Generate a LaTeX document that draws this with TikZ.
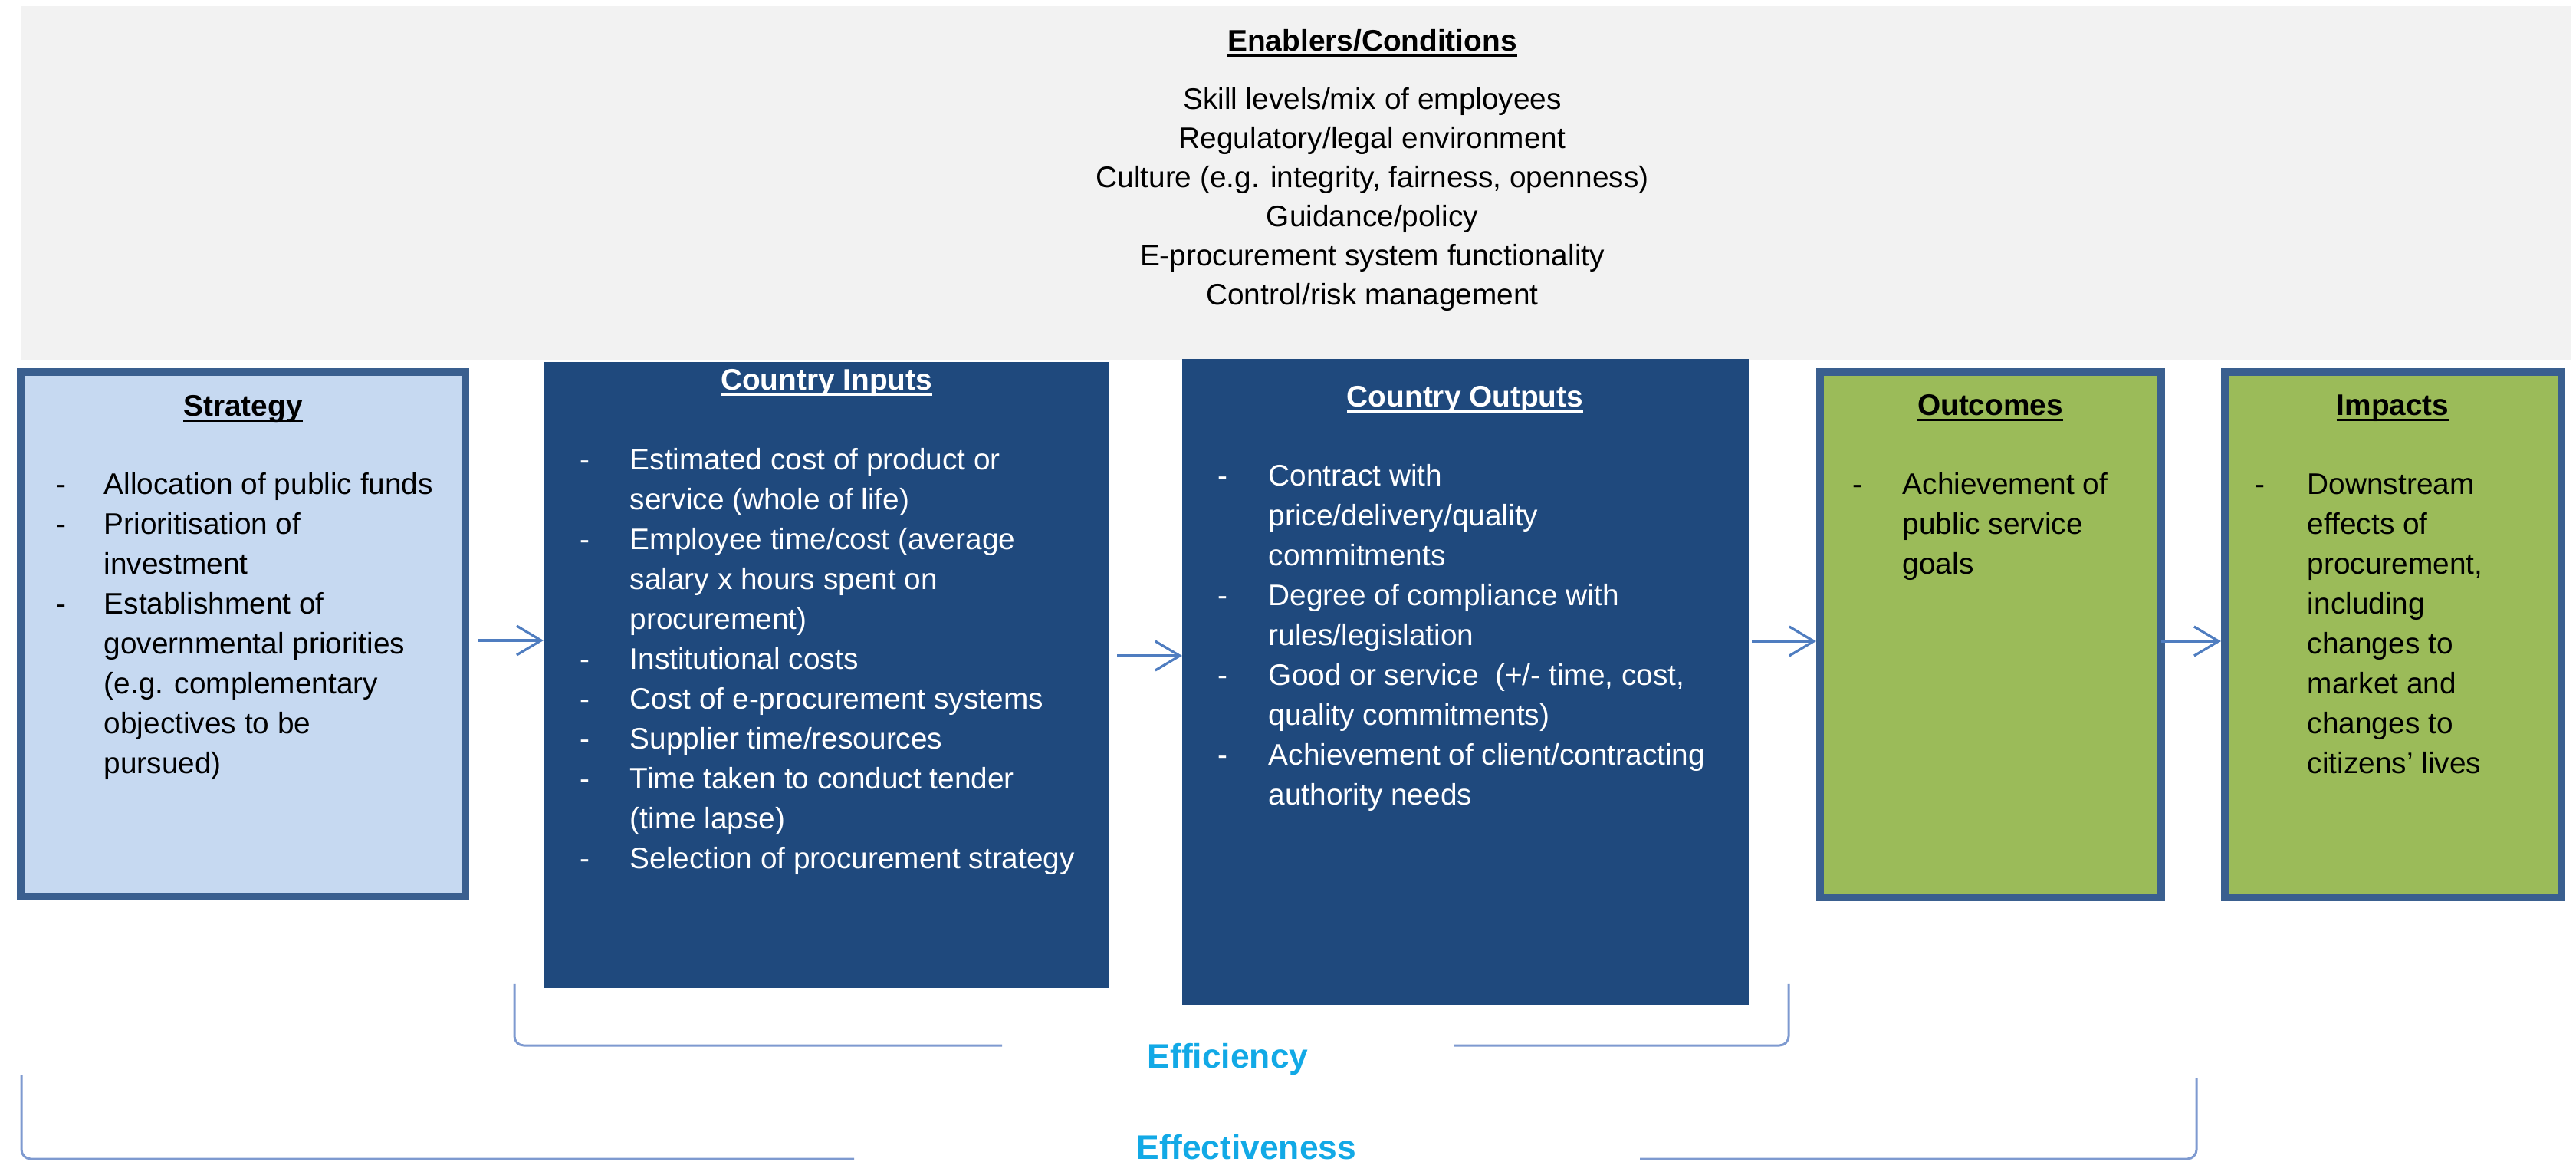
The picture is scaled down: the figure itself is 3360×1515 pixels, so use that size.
\documentclass[tikz,border=0pt]{standalone}
\usepackage{fontspec}
\setmainfont{Liberation Sans}
\usetikzlibrary{arrows.meta}
\definecolor{bgray}{HTML}{F2F2F2}
\definecolor{dblue}{HTML}{1F497D}
\definecolor{lblue}{HTML}{C6D9F1}
\definecolor{bord}{HTML}{3A5F8F}
\definecolor{lgreen}{HTML}{9BBB59}
\definecolor{arrc}{HTML}{4F7DC0}
\definecolor{brkc}{HTML}{7E9AD0}
\definecolor{effc}{HTML}{12A9E6}
\newcommand\ulw[1]{\setbox0\hbox{#1}\rlap{\rule[-1.7pt]{\wd0}{0.65pt}}\box0}
\tikzset{
 panel/.style={rectangle, inner sep=0pt, outer sep=0pt},
 graybox/.style={panel, fill=bgray},
 lightbox/.style={panel, fill=lblue, draw=bord, line width=2.5pt},
 greenbox/.style={panel, fill=lgreen, draw=bord, line width=2.5pt},
 darkbox/.style={panel, fill=dblue},
 boxtitle/.style={anchor=base, inner sep=0pt, font=\fontsize{9.7}{13}\selectfont\bfseries},
 listtext/.style={anchor=base west, inner sep=0pt, font=\fontsize{9.7}{13}\selectfont},
 enabtext/.style={anchor=base, inner sep=0pt, font=\fontsize{9.7}{12.75}\selectfont},
 arr/.style={draw=arrc, line width=0.8pt, -{Straight Barb[length=8pt,width=9.5pt]}},
 brk/.style={draw=brkc, line width=0.75pt, rounded corners=3pt},
 efflabel/.style={anchor=base, inner sep=0pt, text=effc, font=\fontsize{11.1}{13}\selectfont\bfseries},
}
\begin{document}
\begin{tikzpicture}[x=0.25pt,y=-0.25pt]
\useasboundingbox (0,0) rectangle (3360,1515);
% background band
\node[graybox, minimum width=831.5pt, minimum height=115.5pt] (enab) at (1690,239) {};
\node[boxtitle] (enabt) at (1790,67) {\ulw{Enablers/Conditions}};
\node[enabtext] (enabl) at (1790,143) {\begin{tabular}[t]{@{}c@{}}
Skill levels/mix of employees\\
Regulatory/legal environment\\
Culture (e.g. integrity, fairness, openness)\\
Guidance/policy\\
E-procurement system functionality\\
Control/risk management
\end{tabular}};
% boxes
\node[lightbox, minimum width=145pt, minimum height=171pt] (strat) at (317,827) {};
\node[darkbox, minimum width=184.5pt, minimum height=204pt] (inp) at (1078,880) {};
\node[darkbox, minimum width=184.75pt, minimum height=210.5pt] (outp) at (1911.5,889) {};
\node[greenbox, minimum width=111.25pt, minimum height=171.25pt] (outc) at (2596.5,827.5) {};
\node[greenbox, minimum width=109.75pt, minimum height=171.25pt] (imp) at (3121.5,827.5) {};
% titles
\node[boxtitle] (stratt) at (317,543) {\ulw{Strategy}};
\node[boxtitle, text=white] (inpt) at (1078,509) {\ulw{Country Inputs}};
\node[boxtitle, text=white] (outpt) at (1911,531) {\ulw{Country Outputs}};
\node[boxtitle] (outct) at (2596,542) {\ulw{Outcomes}};
\node[boxtitle] (impt) at (3121,542) {\ulw{Impacts}};
% lists
\node[listtext] (stratl) at (73,645) {\begin{tabular}[t]{@{}p{15.5pt}@{}l@{}}
- & Allocation of public funds\\
- & Prioritisation of\\
 & investment\\
- & Establishment of\\
 & governmental priorities\\
 & (e.g. complementary\\
 & objectives to be\\
 & pursued)
\end{tabular}};
\node[listtext, text=white] (inpl) at (756,613) {\begin{tabular}[t]{@{}p{16.25pt}@{}l@{}}
- & Estimated cost of product or\\
 & service (whole of life)\\
- & Employee time/cost (average\\
 & salary x hours spent on\\
 & procurement)\\
- & Institutional costs\\
- & Cost of e-procurement systems\\
- & Supplier time/resources\\
- & Time taken to conduct tender\\
 & (time lapse)\\
- & Selection of procurement strategy
\end{tabular}};
\node[listtext, text=white] (outpl) at (1588,634) {\begin{tabular}[t]{@{}p{16.5pt}@{}l@{}}
- & Contract with\\
 & price/delivery/quality\\
 & commitments\\
- & Degree of compliance with\\
 & rules/legislation\\
- & Good or service \ (+/- time, cost,\\
 & quality commitments)\\
- & Achievement of client/contracting\\
 & authority needs
\end{tabular}};
\node[listtext] (outcl) at (2416,645) {\begin{tabular}[t]{@{}p{16.25pt}@{}l@{}}
- & Achievement of\\
 & public service\\
 & goals
\end{tabular}};
\node[listtext] (impl) at (2941,645) {\begin{tabular}[t]{@{}p{17pt}@{}l@{}}
- & Downstream\\
 & effects of\\
 & procurement,\\
 & including\\
 & changes to\\
 & market and\\
 & changes to\\
 & citizens’ lives
\end{tabular}};
% arrows
\coordinate (ya) at (0,835);
\coordinate (yb) at (0,855);
\coordinate (yc) at (0,836);
\draw[arr, shorten <=4pt] (strat.east |- ya) -- (inp.west |- ya);
\draw[arr, shorten <=2.5pt] (inp.east |- yb) -- (outp.west |- yb);
\draw[arr, shorten <=1pt, shorten >=1.25pt] (outp.east |- yc) -- (outc.west |- yc);
\draw[arr, shorten >=1.25pt] (outc.east |- yc) -- (imp.west |- yc);
% efficiency / effectiveness brackets
\node[efflabel] (effy) at (1601.5,1393) {Efficiency};
\node[efflabel] (effv) at (1626,1511) {Effectiveness};
\coordinate (e1a) at (671,1283);
\coordinate (e1b) at (671,1363);
\coordinate (e1c) at (1307,1363);
\coordinate (e1d) at (1896,1363);
\coordinate (e1e) at (2333,1363);
\coordinate (e1f) at (2333,1283);
\draw[brk] (e1a) -- (e1b) -- (e1c);
\draw[brk] (e1d) -- (e1e) -- (e1f);
\coordinate (e2a) at (28,1402);
\coordinate (e2b) at (28,1511);
\coordinate (e2c) at (1114,1511);
\coordinate (e2d) at (2139,1511);
\coordinate (e2e) at (2865,1511);
\coordinate (e2f) at (2865,1405);
\draw[brk] (e2a) -- (e2b) -- (e2c);
\draw[brk] (e2d) -- (e2e) -- (e2f);
\end{tikzpicture}
\end{document}
